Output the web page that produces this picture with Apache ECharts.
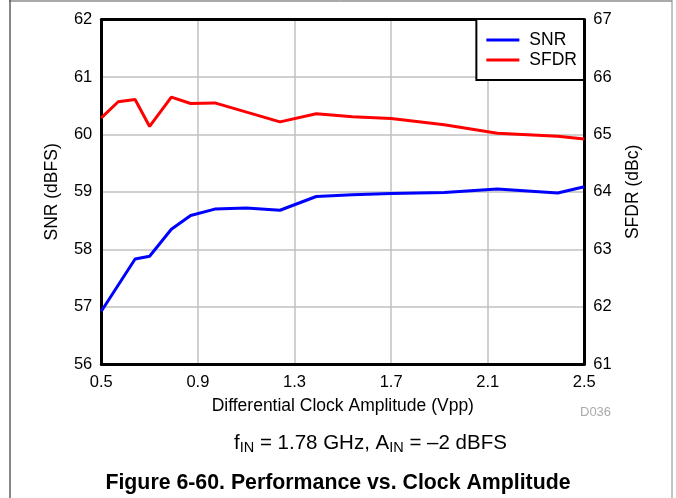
<!DOCTYPE html>
<html>
<head>
<meta charset="utf-8">
<script src="https://cdn.jsdelivr.net/npm/echarts@6/dist/echarts.min.js"></script>
<style>
html,body{margin:0;padding:0;background:#fff;}
#chart{width:676px;height:498px;}
</style>
</head>
<body>
<div id="chart"></div>
<script>
// Data
const snrX = [0.5, 0.64, 0.7, 0.79, 0.87, 0.97, 1.1, 1.24, 1.39, 1.54, 1.7, 1.92, 2.14, 2.39, 2.5];
const snrY = [56.92, 57.83, 57.88, 58.35, 58.59, 58.70, 58.72, 58.68, 58.92, 58.95, 58.97, 58.99, 59.05, 58.98, 59.09];
const sfdrX = [0.5, 0.57, 0.64, 0.7, 0.79, 0.87, 0.97, 1.24, 1.39, 1.54, 1.7, 1.92, 2.14, 2.39, 2.5];
const sfdrY = [65.29, 65.57, 65.61, 65.14, 65.65, 65.54, 65.55, 65.22, 65.36, 65.31, 65.28, 65.17, 65.02, 64.97, 64.92];
const xTicks = [0.5, 0.9, 1.3, 1.7, 2.1, 2.5];

const FONT = '"Liberation Sans", Arial, sans-serif';
const chart = echarts.init(document.getElementById('chart'), null, {renderer: 'canvas'});

const pair = (xs, ys) => xs.map((x, i) => [x, ys[i]]);
const frameLine = {show: true, lineStyle: {color: '#000', width: 3}};

chart.setOption({
  backgroundColor: '#fff',
  animation: false,
  textStyle: {fontFamily: FONT, color: '#000'},
  grid: {left: 101.3, right: 91.7, top: 19.7, bottom: 133.9, show: false, containLabel: false},
  legend: {
    orient: 'vertical', right: 92, top: 19,
    data: ['SNR', 'SFDR'],
    icon: 'rect',
    borderColor: '#000', borderWidth: 2, backgroundColor: '#fff',
    padding: [12, 7, 11, 10],
    itemWidth: 33, itemHeight: 3, itemGap: 2,
    textStyle: {fontFamily: FONT, fontSize: 17.5, color: '#000', padding: [0, 0, 0, 5]},
    z: 10
  },
  xAxis: [{
    type: 'value', min: 0.5, max: 2.5, interval: 0.4, position: 'bottom',
    name: 'Differential Clock Amplitude (Vpp)', nameLocation: 'middle', nameGap: 33,
    nameTextStyle: {fontFamily: FONT, fontSize: 17.5, color: '#000'},
    axisLine: frameLine, axisTick: {show: false},
    axisLabel: {fontFamily: FONT, fontSize: 16.5, color: '#000', margin: 10,
      customValues: xTicks, formatter: v => v.toFixed(1)},
    splitLine: {show: true, lineStyle: {color: '#c0c0c0', width: 1.5}}
  }, {
    type: 'value', min: 0.5, max: 2.5, interval: 0.4, position: 'top',
    axisLine: frameLine, axisTick: {show: false}, axisLabel: {show: false},
    splitLine: {show: false}
  }],
  yAxis: [{
    type: 'value', min: 56, max: 62, interval: 1, position: 'left',
    name: 'SNR (dBFS)', nameLocation: 'middle', nameGap: 40,
    nameTextStyle: {fontFamily: FONT, fontSize: 17.5, color: '#000'},
    axisLine: frameLine, axisTick: {show: false},
    axisLabel: {fontFamily: FONT, fontSize: 16.5, color: '#000', margin: 9},
    splitLine: {show: true, lineStyle: {color: '#c0c0c0', width: 1.5}}
  }, {
    type: 'value', min: 61, max: 67, interval: 1, position: 'right',
    name: 'SFDR (dBc)', nameLocation: 'middle', nameGap: 40,
    nameTextStyle: {fontFamily: FONT, fontSize: 17.5, color: '#000'},
    axisLine: frameLine, axisTick: {show: false},
    axisLabel: {fontFamily: FONT, fontSize: 16.5, color: '#000', margin: 9},
    splitLine: {show: false}
  }],
  series: [{
    name: 'SNR', type: 'line', xAxisIndex: 0, yAxisIndex: 0, data: pair(snrX, snrY),
    showSymbol: false, symbol: 'none', lineStyle: {color: '#0000ff', width: 3}, itemStyle: {color: '#0000ff'}
  }, {
    name: 'SFDR', type: 'line', xAxisIndex: 0, yAxisIndex: 1, data: pair(sfdrX, sfdrY),
    showSymbol: false, symbol: 'none', lineStyle: {color: '#ff0000', width: 3}, itemStyle: {color: '#ff0000'}
  }],
  title: [{
    text: 'f{sub|IN} = 1.78 GHz, A{sub|IN} = –2 dBFS',
    left: 229, top: 427,
    textStyle: {fontFamily: FONT, fontSize: 20.5, fontWeight: 'normal', color: '#000',
      rich: {sub: {fontFamily: FONT, fontSize: 14.5, verticalAlign: 'bottom', padding: [8, 0, 0, 0], color: '#000'}}}
  }, {
    text: 'Figure 6-60. Performance vs. Clock Amplitude',
    left: 'center', top: 468,
    textStyle: {fontFamily: FONT, fontSize: 21.3, fontWeight: 'bold', color: '#000'}
  }],
  graphic: [
    {type: 'line', shape: {x1: 10, y1: 0, x2: 10, y2: 498}, style: {stroke: '#888', lineWidth: 2}},
    {type: 'line', shape: {x1: 9, y1: 1, x2: 672, y2: 1}, style: {stroke: '#555', lineWidth: 1}},
    {type: 'line', shape: {x1: 672, y1: 0, x2: 672, y2: 498}, style: {stroke: '#888', lineWidth: 1}},
    {type: 'text', left: 580, top: 406, style: {text: 'D036', font: '13px ' + FONT, fill: '#aaa'}}
  ]
});
</script>
</body>
</html>
